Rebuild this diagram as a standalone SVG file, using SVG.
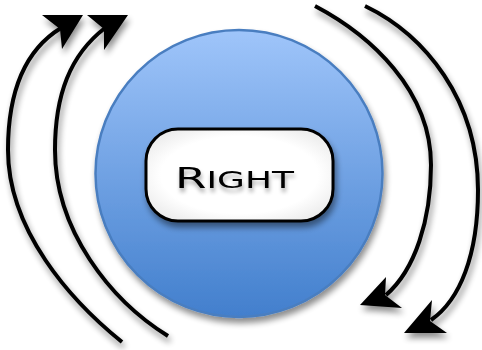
<svg xmlns="http://www.w3.org/2000/svg" width="482" height="350" viewBox="0 0 482 350">
<style>
.arc{fill:none;stroke:#000;stroke-width:4;stroke-linecap:butt}
.head{fill:#000;stroke:none}
.lbl{font-family:"DejaVu Sans","Liberation Sans",sans-serif;fill:#000}
</style>
<defs>
<linearGradient id="ball" x1="0" y1="0" x2="0" y2="1">
<stop offset="0" stop-color="#9fc5fa"/>
<stop offset="1" stop-color="#427fcd"/>
</linearGradient>
<radialGradient id="pill" cx="0.5" cy="0.5" r="0.6">
<stop offset="0.7" stop-color="#ffffff"/>
<stop offset="1" stop-color="#ececec"/>
</radialGradient>
<filter id="sh" x="-20%" y="-20%" width="140%" height="150%">
<feGaussianBlur in="SourceAlpha" stdDeviation="3"/>
<feOffset dx="2" dy="5" result="b"/>
<feComponentTransfer><feFuncA type="linear" slope="0.45"/></feComponentTransfer>
<feMerge><feMergeNode/><feMergeNode in="SourceGraphic"/></feMerge>
</filter>
<filter id="tsh" x="-20%" y="-40%" width="140%" height="180%">
<feGaussianBlur in="SourceAlpha" stdDeviation="2"/>
<feOffset dx="1" dy="4" result="b"/>
<feComponentTransfer><feFuncA type="linear" slope="0.35"/></feComponentTransfer>
<feMerge><feMergeNode/><feMergeNode in="SourceGraphic"/></feMerge>
</filter>
</defs>
<g id="ball-node" filter="url(#sh)">
<circle cx="239" cy="173.5" r="143.5" fill="url(#ball)" stroke="#4a7ec0" stroke-width="2.5"/>
</g>
<g id="right-node">
<rect x="146" y="129" width="187" height="92" rx="32" ry="32" fill="url(#pill)" stroke="#000" stroke-width="3" filter="url(#sh)"/>
<text class="lbl" x="175" y="188" textLength="119" lengthAdjust="spacingAndGlyphs" filter="url(#tsh)"><tspan font-size="29">R</tspan><tspan font-size="23">IGHT</tspan></text>
</g>
<g id="connectors" filter="url(#sh)">
<path class="arc" d="M122,342 C70,300 8,230 8,150 C8,90 25,50 61,28"/>
<polygon class="head" points="83,15 42,15 60,29 62,49"/>
<path class="arc" d="M168,336 C110,300 55,230 55,150 C55,95 70,55 105,28"/>
<polygon class="head" points="128,15 87,15 104,29 104,50"/>
<path class="arc" d="M315,6 C370,35 431,90 431,165 C431,220 415,270 386,295"/>
<polygon class="head" points="360,305 402,308 385,295 386,277"/>
<path class="arc" d="M365,6 C425,35 478,100 478,190 C478,255 460,300 431,320"/>
<polygon class="head" points="404,333 447,333 430,321 432,300"/>
</g>
</svg>
